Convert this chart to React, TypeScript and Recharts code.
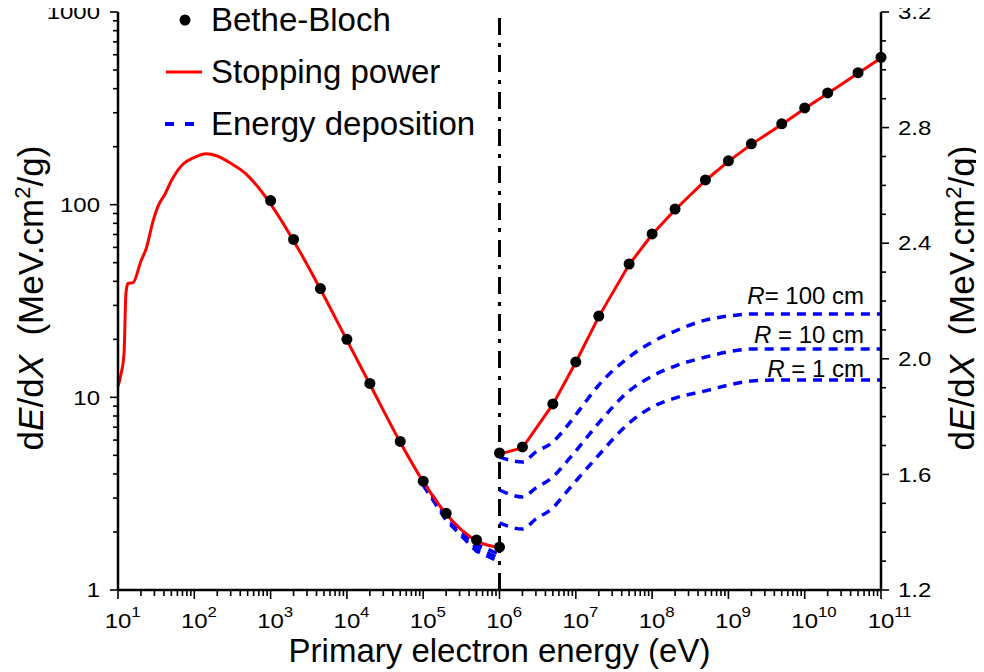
import React from "react";
import { LineChart, Line, XAxis, YAxis, ReferenceLine, ReferenceDot } from "recharts";

const FONT = '"Liberation Sans", Arial, sans-serif';

// Bethe-Bloch points, energy in eV, dE/dX in MeV.cm2/g
const bbLowE = [1e3, 2e3, 4.5e3, 1e4, 2e4, 5e4, 1e5, 2e5, 5e5, 1e6];
const bbLowV = [105, 66, 36.7, 20, 11.8, 5.9, 3.67, 2.5, 1.82, 1.67];
const bbHighE = [1e6, 2e6, 5e6, 1e7, 2e7, 5e7, 1e8, 2e8, 5e8, 1e9, 2e9, 5e9, 1e10, 2e10, 5e10, 1e11];
const bbHighV = [1.674, 1.695, 1.844, 1.989, 2.148, 2.328, 2.432, 2.518, 2.619, 2.685, 2.744, 2.813, 2.868, 2.92, 2.99, 3.043];

// stopping power (left scale, below 1 MeV)
const spLowE = [10, 11, 12, 12.7, 13.5, 15.8, 20, 23.4, 28.9, 33.7, 41.6, 50, 72, 97, 144, 195, 308, 471, 700, 946, 2e3, 4.5e3, 1e4, 2e4, 5e4, 1e5, 2e5, 5e5, 1e6];
const spLowV = [11.4, 13.3, 16.9, 34.6, 39, 39.4, 51, 59, 82.6, 98.8, 114, 133, 163, 175, 184, 179.5, 163, 145, 122, 104, 65, 36.4, 19.8, 11.7, 5.85, 3.65, 2.48, 1.8, 1.66];
// stopping power (right scale, above 1 MeV)
const spHighE = bbHighE;
const spHighV = [1.67, 1.692, 1.842, 1.988, 2.146, 2.326, 2.43, 2.516, 2.617, 2.683, 2.742, 2.811, 2.866, 2.918, 2.988, 3.041];

// energy deposition, left scale
const edLowE = [1e5, 2e5, 5e5, 1e6];
const ed100Low = [3.65, 2.43, 1.72, 1.53];
const ed10Low = [3.58, 2.36, 1.65, 1.46];
const ed1Low = [3.5, 2.3, 1.59, 1.4];

// energy deposition, right scale
const edHighE = [1e6, 2e6, 3e6, 5e6, 7e6, 1e7, 2e7, 5e7, 1e8, 2e8, 5e8, 1e9, 2e9, 5e9, 1e10, 1e11];
const ed100 = [1.66, 1.643, 1.678, 1.712, 1.754, 1.806, 1.909, 2.006, 2.058, 2.096, 2.134, 2.148, 2.155, 2.155, 2.155, 2.155];
const ed10 = [1.546, 1.522, 1.553, 1.591, 1.633, 1.681, 1.778, 1.889, 1.94, 1.975, 2.006, 2.024, 2.034, 2.034, 2.034, 2.034];
const ed1 = [1.432, 1.411, 1.446, 1.484, 1.529, 1.577, 1.667, 1.778, 1.833, 1.864, 1.889, 1.909, 1.923, 1.927, 1.927, 1.927];

// radius labels: text, anchor energy, baseline value on right scale
const rLabels = [
  { text: "= 100 cm", x: 6e10, y: 2.19 },
  { text: " = 10 cm", x: 6e10, y: 2.055 },
  { text: " = 1 cm", x: 6e10, y: 1.937 },
];

const xMajors = [1e1, 1e2, 1e3, 1e4, 1e5, 1e6, 1e7, 1e8, 1e9, 1e10, 1e11];
const leftMajors = [1, 10, 100, 1000];
const rightTicks = [1.2, 1.3, 1.4, 1.5, 1.6, 1.7, 1.8, 1.9, 2.0, 2.1, 2.2, 2.3, 2.4, 2.5, 2.6, 2.7, 2.8, 2.9, 3.0, 3.1, 3.2];
const rightMajors = [1.2, 1.6, 2.0, 2.4, 2.8, 3.2];

const logTicks = (majors: number[]) => {
  const out: number[] = [];
  majors.forEach((m, i) => {
    out.push(m);
    if (i < majors.length - 1) for (let k = 2; k <= 9; k++) out.push(m * k);
  });
  return out;
};
const xTicks = logTicks(xMajors);
const leftTicks = logTicks(leftMajors);

const pts = (xs: number[], ys: number[]) => xs.map((x, i) => ({ x, y: ys[i] }));

// tick labels in the original are a little wider than Arial, so stretch them a bit
const STRETCH = "scale(1.2,1)";

const XTick = (props: any) => {
  const { x, y, payload } = props;
  const v = payload.value as number;
  const e = Math.round(Math.log10(v));
  const major = xMajors.includes(v);
  return (
    <g>
      <line x1={x} x2={x} y1={y} y2={y + (major ? 9 : 6)} stroke="#000" strokeWidth={1.6} />
      {major && (
        <g transform={`translate(${x},${y + 38}) ${STRETCH}`} fontFamily={FONT} fill="#000">
          <text x={0} y={0} textAnchor="middle" fontSize={20}>10</text>
          <text x={11} y={-11} fontSize={14}>{e}</text>
        </g>
      )}
    </g>
  );
};

const LeftTick = (props: any) => {
  const { x, y, payload } = props;
  const v = payload.value as number;
  const major = leftMajors.includes(v);
  return (
    <g>
      <line x1={x - (major ? 8 : 5)} x2={x} y1={y} y2={y} stroke="#000" strokeWidth={1.6} />
      {major && (
        <g transform={`translate(${x - 18},${y}) ${STRETCH}`}>
          <text x={0} y={0} dy="0.36em" textAnchor="end" fontFamily={FONT} fontSize={20} fill="#000">{v}</text>
        </g>
      )}
    </g>
  );
};

const RightTick = (props: any) => {
  const { x, y, payload } = props;
  const v = payload.value as number;
  const major = rightMajors.some((m) => Math.abs(m - v) < 1e-6);
  return (
    <g>
      <line x1={x} x2={x + (major ? 8 : 5)} y1={y} y2={y} stroke="#000" strokeWidth={1.6} />
      {major && (
        <g transform={`translate(${x + 17},${y}) ${STRETCH}`}>
          <text x={0} y={0} dy="0.36em" textAnchor="start" fontFamily={FONT} fontSize={20} fill="#000">{v.toFixed(1)}</text>
        </g>
      )}
    </g>
  );
};

const YTitle = ({ cx, cy }: { cx: number; cy: number }) => (
  <text transform={`translate(${cx},${cy}) rotate(-90)`} textAnchor="middle" fontFamily={FONT} fontSize={35} fill="#000" style={{ whiteSpace: "pre" }}>
    d<tspan fontStyle="italic">E</tspan>/d<tspan fontStyle="italic">X</tspan>
    {"  (MeV.cm"}
    <tspan dy={-13} fontSize={22}>2</tspan>
    <tspan dy={13}>/g)</tspan>
  </text>
);

const RLabel = (props: any) => {
  const { viewBox, text } = props;
  return (
    <text x={viewBox.x} y={viewBox.y} textAnchor="end" fontFamily={FONT} fontSize={24} fill="#000" style={{ whiteSpace: "pre" }}>
      <tspan fontStyle="italic">R</tspan>
      {text}
    </text>
  );
};

const legendRow = { display: "flex", alignItems: "center", height: 52 } as const;

function LegendBox() {
  return (
    <div style={{ position: "absolute", left: 165, top: -6, fontFamily: FONT, fontSize: 33, color: "#000", whiteSpace: "nowrap" }}>
      <div style={legendRow}>
        <svg width={46} height={52}><circle cx={20} cy={26} r={5.5} fill="#000" /></svg>
        <span>Bethe-Bloch</span>
      </div>
      <div style={legendRow}>
        <svg width={46} height={52}><line x1={1} x2={37} y1={26} y2={26} stroke="#ff0000" strokeWidth={3} /></svg>
        <span>Stopping power</span>
      </div>
      <div style={legendRow}>
        <svg width={46} height={52}><line x1={0} x2={30} y1={26} y2={26} stroke="#0000ff" strokeWidth={4} strokeDasharray="9 11" /></svg>
        <span>Energy deposition</span>
      </div>
    </div>
  );
}

export default function App() {
  const blue = "#0000ff";
  const red = "#ff0000";
  const dotStyle = { r: 5.5, fill: "#000", stroke: "#000", strokeWidth: 0 };
  return (
    <div style={{ position: "relative", width: 984, height: 672, margin: "-8px 0 0 -8px" }}>
      <LineChart width={984} height={672} margin={{ top: 12, right: 0, bottom: 0, left: 0 }}>
        <XAxis
          dataKey="x"
          type="number"
          scale="log"
          domain={[10, 1e11]}
          ticks={xTicks}
          interval={0}
          tick={XTick}
          tickLine={false}
          tickSize={0}
          tickMargin={0}
          height={82}
          axisLine={{ stroke: "#000", strokeWidth: 2.5 }}
          label={{
            content: (p: any) => (
              <text x={p.viewBox.x + p.viewBox.width / 2} y={p.viewBox.y + 72} textAnchor="middle" fontFamily={FONT} fontSize={33} fill="#000">
                Primary electron energy (eV)
              </text>
            ),
          }}
        />
        <YAxis
          yAxisId="left"
          type="number"
          scale="log"
          domain={[1, 1000]}
          ticks={leftTicks}
          interval={0}
          tick={LeftTick}
          tickLine={false}
          tickSize={0}
          tickMargin={0}
          width={118}
          axisLine={{ stroke: "#000", strokeWidth: 2.5 }}
          label={{ content: (p: any) => <YTitle cx={p.viewBox.x + 43} cy={p.viewBox.y + p.viewBox.height / 2 - 3} /> }}
        />
        <YAxis
          yAxisId="right"
          orientation="right"
          type="number"
          domain={[1.2, 3.2]}
          ticks={rightTicks}
          interval={0}
          tick={RightTick}
          tickLine={false}
          tickSize={0}
          tickMargin={0}
          width={103}
          axisLine={{ stroke: "#000", strokeWidth: 2.5 }}
          label={{ content: (p: any) => <YTitle cx={p.viewBox.x + 93} cy={p.viewBox.y + p.viewBox.height / 2 - 3} /> }}
        />
        <ReferenceLine yAxisId="left" x={1e6} stroke="#000" strokeWidth={3} strokeDasharray="17 8 4 8" />

        <Line data={pts(edLowE, ed100Low)} dataKey="y" yAxisId="left" type="linear" stroke={blue} strokeWidth={3.5} strokeDasharray="9 7" dot={false} activeDot={false} isAnimationActive={false} />
        <Line data={pts(edLowE, ed10Low)} dataKey="y" yAxisId="left" type="linear" stroke={blue} strokeWidth={3.5} strokeDasharray="9 7" dot={false} activeDot={false} isAnimationActive={false} />
        <Line data={pts(edLowE, ed1Low)} dataKey="y" yAxisId="left" type="linear" stroke={blue} strokeWidth={3.5} strokeDasharray="9 7" dot={false} activeDot={false} isAnimationActive={false} />
        <Line data={pts(edHighE, ed100)} dataKey="y" yAxisId="right" type="monotone" stroke={blue} strokeWidth={3.5} strokeDasharray="9 7" dot={false} activeDot={false} isAnimationActive={false} />
        <Line data={pts(edHighE, ed10)} dataKey="y" yAxisId="right" type="monotone" stroke={blue} strokeWidth={3.5} strokeDasharray="9 7" dot={false} activeDot={false} isAnimationActive={false} />
        <Line data={pts(edHighE, ed1)} dataKey="y" yAxisId="right" type="monotone" stroke={blue} strokeWidth={3.5} strokeDasharray="9 7" dot={false} activeDot={false} isAnimationActive={false} />

        <Line data={pts(spLowE, spLowV)} dataKey="y" yAxisId="left" type="monotone" stroke={red} strokeWidth={3} dot={false} activeDot={false} isAnimationActive={false} />
        <Line data={pts(spHighE, spHighV)} dataKey="y" yAxisId="right" type="linear" stroke={red} strokeWidth={3} dot={false} activeDot={false} isAnimationActive={false} />

        <Line data={pts(bbLowE, bbLowV)} dataKey="y" yAxisId="left" stroke="none" dot={dotStyle} activeDot={false} isAnimationActive={false} />
        <Line data={pts(bbHighE, bbHighV)} dataKey="y" yAxisId="right" stroke="none" dot={dotStyle} activeDot={false} isAnimationActive={false} />

        {rLabels.map((l) => (
          <ReferenceDot key={l.text} yAxisId="right" x={l.x} y={l.y} r={0} fill="none" stroke="none" label={{ content: (p: any) => <RLabel {...p} text={l.text} /> }} />
        ))}
      </LineChart>
      <LegendBox />
    </div>
  );
}
